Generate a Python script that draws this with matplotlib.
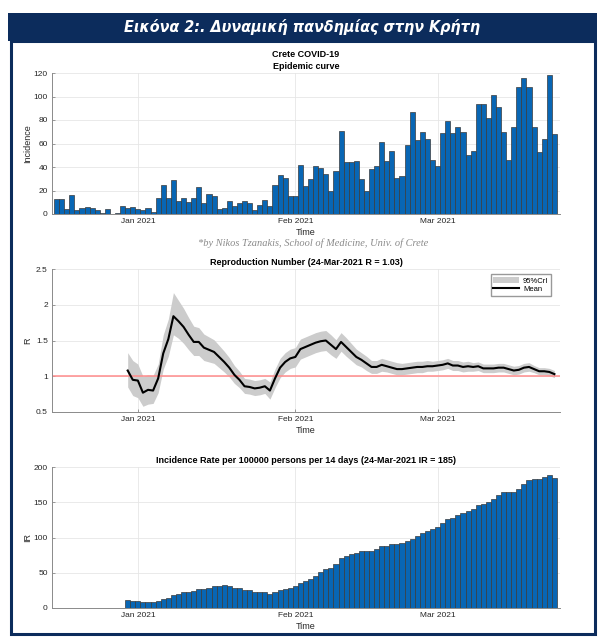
import matplotlib
matplotlib.use('Agg')
import matplotlib.pyplot as plt
import matplotlib.dates as mdates
from matplotlib.patches import Rectangle, Patch
from matplotlib.lines import Line2D
from matplotlib import font_manager
import pandas as pd

# Ежедневные случаи, с 16-Dec-2020 по 24-Mar-2021
start_date = '2020-12-16'
incidence = [13, 13, 4, 16, 3, 5, 6, 5, 3, 1, 4, 0, 1, 7, 5, 6,
             4, 3, 5, 2, 14, 25, 14, 29, 11, 14, 10, 14, 23, 9, 17, 15,
             4, 5, 11, 7, 9, 11, 9, 3, 8, 12, 7, 25, 33, 31, 15,
             15, 42, 24, 30, 41, 39, 34, 20, 37, 71, 44, 44, 45, 30, 20,
             38, 41, 61, 45, 54, 31, 32, 59, 87, 63, 70, 64, 46,
             41, 69, 79, 69, 74, 70, 50, 54, 94, 94, 82, 101, 91, 70, 46,
             74, 108, 116, 108, 74, 53, 64, 118, 68]

# R и IR начинаются с 30-Dec-2020
r_start = '2020-12-30'
r_mean = [1.08, 0.95, 0.94, 0.77, 0.81, 0.80, 0.97, 1.32, 1.52, 1.84,
          1.77, 1.69, 1.58, 1.48, 1.48, 1.40, 1.37, 1.34, 1.27, 1.20,
          1.12, 1.02, 0.95, 0.86, 0.85, 0.83, 0.84, 0.86, 0.80, 0.97,
          1.12, 1.20, 1.25, 1.27, 1.38, 1.41, 1.44, 1.47, 1.49, 1.50,
          1.44, 1.38, 1.48, 1.41, 1.34, 1.27, 1.23, 1.18, 1.13, 1.13,
          1.16, 1.14, 1.12, 1.10, 1.10, 1.11, 1.12, 1.13, 1.13, 1.14,
          1.14, 1.15, 1.16, 1.18, 1.15, 1.15, 1.13, 1.14, 1.13, 1.14,
          1.11, 1.11, 1.11, 1.12, 1.12, 1.10, 1.08, 1.09, 1.12, 1.13,
          1.10, 1.07, 1.07, 1.06, 1.03]
r_low = [0.85, 0.73, 0.70, 0.58, 0.61, 0.62, 0.77, 1.10, 1.28, 1.58,
         1.53, 1.46, 1.37, 1.29, 1.29, 1.22, 1.20, 1.18, 1.12, 1.06,
         0.99, 0.90, 0.84, 0.76, 0.75, 0.73, 0.74, 0.76, 0.68, 0.84,
         0.98, 1.06, 1.11, 1.13, 1.24, 1.27, 1.30, 1.33, 1.35, 1.36,
         1.30, 1.25, 1.35, 1.28, 1.22, 1.16, 1.13, 1.08, 1.04, 1.04,
         1.07, 1.06, 1.04, 1.02, 1.02, 1.03, 1.04, 1.05, 1.05, 1.07,
         1.07, 1.08, 1.09, 1.11, 1.08, 1.08, 1.06, 1.07, 1.07, 1.08,
         1.05, 1.05, 1.05, 1.06, 1.06, 1.04, 1.02, 1.03, 1.06, 1.07,
         1.05, 1.02, 1.02, 1.01, 0.98]
r_high = [1.33, 1.22, 1.17, 1.00, 1.02, 1.01, 1.17, 1.58, 1.80, 2.17,
          2.06, 1.95, 1.82, 1.70, 1.68, 1.59, 1.55, 1.51, 1.43, 1.35,
          1.26, 1.15, 1.07, 0.97, 0.96, 0.94, 0.95, 0.97, 0.92, 1.10,
          1.25, 1.33, 1.38, 1.40, 1.52, 1.55, 1.58, 1.61, 1.63, 1.64,
          1.58, 1.51, 1.61, 1.54, 1.46, 1.38, 1.33, 1.28, 1.22, 1.22,
          1.25, 1.23, 1.21, 1.19, 1.18, 1.19, 1.20, 1.21, 1.21, 1.22,
          1.21, 1.22, 1.23, 1.25, 1.22, 1.22, 1.20, 1.21, 1.19, 1.20,
          1.17, 1.17, 1.17, 1.18, 1.18, 1.16, 1.14, 1.15, 1.18, 1.19,
          1.15, 1.12, 1.12, 1.11, 1.08]
ir_values = [11, 10, 10, 8.5, 8.5, 8, 9.5, 12.5, 14, 18,
             20, 22, 23, 24, 27, 27.5, 29, 31.5, 31.5, 32,
             31, 28.5, 28, 25, 25, 23, 22.5, 22.5, 20.5, 22.5,
             25, 27.5, 29, 30.5, 35, 38, 41, 46, 51, 55.5,
             57, 62, 71, 74, 76, 78, 80.5, 81.5, 80.5, 83,
             87.5, 88, 91, 90.5, 92, 95.5, 98.5, 101.5, 106, 109,
             112, 115, 120, 126, 127, 132, 135, 137, 140, 146,
             148, 150, 155, 160, 164, 165, 165, 169, 176.5, 182,
             182.5, 183, 185.5, 188, 185]

days = pd.date_range(start_date, periods=len(incidence))
r_days = pd.date_range(r_start, periods=len(r_mean))

plt.rcParams['font.family'] = ['Liberation Sans', 'DejaVu Sans']

W, H = 600, 643
fig = plt.figure(figsize=(W / 100, H / 100), dpi=100)


def fy(px):
    return 1 - px / H


navy = '#0c2c5c'
bar_color = '#0866b4'
bar_edge = '#3a3a3a'

# Рамка и заголовок
fig.patches.append(Rectangle((8 / W, fy(41)), 589 / W, 28 / H, transform=fig.transFigure,
                             facecolor=navy, edgecolor='none', zorder=0))
fig.patches.append(Rectangle((10.5 / W, fy(633.5)), 584 / W, 592.5 / H, transform=fig.transFigure,
                             facecolor='none', edgecolor=navy, linewidth=2.2, zorder=0))

# Узкий шрифт для заголовка, если есть
fonts = font_manager.fontManager.ttflist
names = {f.name for f in fonts}
banner_stretch = 'normal'
if 'Liberation Sans Narrow' in names:
    banner_font, banner_size = 'Liberation Sans Narrow', 13.5
elif any(f.name == 'DejaVu Sans' and f.stretch == 'condensed' for f in fonts):
    banner_font, banner_size, banner_stretch = 'DejaVu Sans', 11.5, 'condensed'
else:
    banner_font, banner_size = 'DejaVu Sans', 10.5
fig.text(302 / W, fy(27), 'Εικόνα 2:. Δυναμική πανδημίας στην Κρήτη', color='white',
         fontsize=banner_size, fontweight='bold', fontstyle='italic', family=banner_font,
         fontstretch=banner_stretch, ha='center', va='center')

xmin = mdates.date2num(days[0]) - 0.9
xmax = mdates.date2num(days[-1]) + 1.1


def style_axes(ax):
    ax.grid(True, color='#e6e6e6', linewidth=0.6)
    ax.set_axisbelow(True)
    for s in ['top', 'right']:
        ax.spines[s].set_visible(False)
    for s in ['left', 'bottom']:
        ax.spines[s].set_color('#8a8a8a')
        ax.spines[s].set_linewidth(0.7)
    ax.tick_params(direction='in', length=2.5, width=0.6, color='#8a8a8a',
                   labelsize=6, labelcolor='#262626', pad=3)
    ax.xaxis.set_major_locator(mdates.MonthLocator())
    ax.xaxis.set_major_formatter(mdates.DateFormatter('%b %Y'))
    ax.set_xlim(xmin, xmax)
    ax.set_xlabel('Time', fontsize=6.5, labelpad=2, color='#262626')


def make_axes(top, bottom):
    return fig.add_axes([52 / W, fy(bottom), 508 / W, (bottom - top) / H])


# 1) Эпидемическая кривая
ax1 = make_axes(73, 214)
ax1.bar(days, incidence, width=1.0, color=bar_color, edgecolor=bar_edge, linewidth=0.5)
style_axes(ax1)
ax1.set_ylim(0, 120)
ax1.set_yticks(range(0, 121, 20))
ax1.set_ylabel('Incidence', fontsize=6.5, color='#262626')
ax1.yaxis.set_label_coords(-0.040, 0.5)
ax1.set_title('Crete COVID-19\nEpidemic curve', fontsize=6.5, fontweight='bold',
              linespacing=1.35, pad=3)

fig.text(313 / W, fy(243), '*by Nikos Tzanakis, School of Medicine, Univ. of Crete',
         fontsize=7.5, fontstyle='italic', family='Liberation Serif', color='#8a8a8a',
         ha='center', va='center')

# 2) Число репродукции
ax2 = make_axes(269, 412)
ax2.fill_between(r_days, r_low, r_high, color='#cccccc', linewidth=0, zorder=1)
ax2.axhline(1, color='#ff8c8c', linewidth=1.1, zorder=2)
ax2.plot(r_days, r_mean, color='black', linewidth=1.5, zorder=3)
style_axes(ax2)
ax2.set_ylim(0.5, 2.5)
ax2.set_yticks([0.5, 1, 1.5, 2, 2.5])
ax2.set_yticklabels(['0.5', '1', '1.5', '2', '2.5'])
ax2.set_ylabel('R', fontsize=6.5, color='#262626')
ax2.yaxis.set_label_coords(-0.039, 0.5)
ax2.set_title('Reproduction Number (24-Mar-2021 R = 1.03)', fontsize=6.5,
              fontweight='bold', pad=3)
handles = [Patch(facecolor='#cccccc', edgecolor='none', label='95%CrI'),
           Line2D([], [], color='black', linewidth=1.5, label='Mean')]
ax2.legend(handles=handles, loc='upper right', bbox_to_anchor=(0.99, 0.99),
           fontsize=5.5, fancybox=False, edgecolor='#999999', framealpha=1,
           handlelength=3.4, handleheight=0.9, borderpad=0.35, labelspacing=0.1,
           handletextpad=0.5)

# 3) Заболеваемость на 100000 за 14 дней
ax3 = make_axes(467, 608)
ax3.bar(r_days, ir_values, width=1.0, color=bar_color, edgecolor=bar_edge, linewidth=0.5)
style_axes(ax3)
ax3.set_ylim(0, 200)
ax3.set_yticks(range(0, 201, 50))
ax3.set_ylabel('IR', fontsize=6.5, color='#262626')
ax3.yaxis.set_label_coords(-0.039, 0.5)
ax3.set_title('Incidence Rate per 100000 persons per 14 days (24-Mar-2021 IR = 185)',
              fontsize=6.5, fontweight='bold', pad=3)

fig.savefig('out.png', dpi=100)
